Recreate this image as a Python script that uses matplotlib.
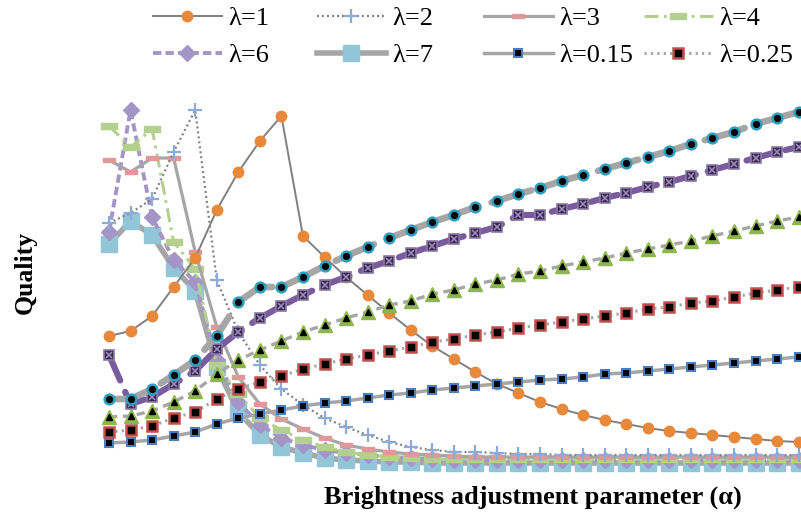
import matplotlib
matplotlib.use("Agg")
import matplotlib.pyplot as plt
from matplotlib.path import Path
import numpy as np

plt.rcParams['lines.scale_dashes'] = False
plt.rcParams['font.family'] = ['Liberation Serif', 'DejaVu Serif']

# brightness adjustment parameter index (33 sampled alpha values)
alpha = list(range(33))

lam1 = [134,139,154,183,212,260,298,329,354,234,213,193,175,157,140,124,111,98,86,77,68,61,55,50,46,42,39,37,35,33,31,29,28]
lam2 = [247,257,271,318,360,190,138,105,81,65,52,43,35,28,23,20,18,18,17,16,16,15,15,15,15,15,15,15,15,15,15,15,15]
lam3 = [310,298,312,312,218,143,93,66,51,41,32,25,21,18,16,15,14,13,13,13,13,13,13,13,13,13,13,13,13,13,13,13,13]
lam4 = [344,323,341,228,201,105,76,52,40,30,23,18,15,13,12,11,11,11,11,11,11,11,11,11,11,11,11,11,11,11,11,11,11]
lam6 = [238,360,253,210,188,110,68,45,32,25,20,17,15,13,12,11,10,10,10,10,10,10,10,10,10,10,10,10,10,10,10,10,10]
lam7 = [226,249,235,202,179,103,58,35,23,17,12,10,9,8,8,7,7,7,7,7,7,7,7,7,7,7,7,7,7,7,7,7,7]
lam015 = [27,28,30,34,38,46,52,56,60,64,67,69,72,75,77,80,82,84,86,88,90,91,93,96,97,99,101,103,105,107,109,111,113]
lam025 = [38,40,44,52,58,71,81,88,94,101,106,111,115,119,123,128,131,135,138,142,145,148,151,154,157,161,163,167,169,173,177,180,183]
# three further series drawn without legend entries
ser_tri = [53,54,59,68,79,96,110,120,129,138,145,152,158,165,169,176,180,186,190,196,199,204,208,212,217,221,225,229,234,239,244,249,253]
ser_teal = [71,71,81,95,110,134,168,183,183,193,204,214,223,232,240,248,255,263,269,276,282,289,295,301,307,313,319,326,332,338,346,352,358]
ser_purp = [115,66,73,86,99,121,138,152,164,175,185,193,202,209,217,224,231,237,243,255,255,261,266,272,277,283,288,294,300,306,312,318,323]

W, H = 801, 522
fig = plt.figure(figsize=(W/100, H/100), dpi=100)
ax = fig.add_axes([109/W, (H-470)/H, 689.6/W, 370/H])
ax.set_xlim(0, 32)
ax.set_ylim(0, 370)
ax.axis('off')

rect = Path([(-1, -0.38), (1, -0.38), (1, 0.38), (-1, 0.38), (-1, -0.38)],
            [Path.MOVETO, Path.LINETO, Path.LINETO, Path.LINETO, Path.CLOSEPOLY])

GRAY = '#a6a6a6'
DGRAY = '#808080'

h7, = ax.plot(alpha, lam7, color=GRAY, lw=4, marker='s', ms=11, mfc='#92c5d8', mec='#92c5d8',
              clip_on=False, label='λ=7', zorder=2)
h6, = ax.plot(alpha, lam6, color='#a595c6', lw=2.8, dashes=(6, 3), marker='D', ms=8.5,
              mfc='#a595c6', mec='#a595c6', clip_on=False, label='λ=6', zorder=2.1)
h4, = ax.plot(alpha, lam4, color='#b4d08e', lw=2.2, dashes=(10, 4, 2, 4), marker=rect, ms=11,
              mfc='#b4d08e', mec='#b4d08e', clip_on=False, label='λ=4', zorder=2.2)
h3, = ax.plot(alpha, lam3, color=GRAY, lw=2.3, marker=rect, ms=9, mfc='#e0999a', mec='#e0999a',
              clip_on=False, label='λ=3', zorder=2.3)
h2, = ax.plot(alpha, lam2, color=DGRAY, lw=1.6, dashes=(1.4, 2.2), marker='+', ms=10, mew=1.6,
              mec='#8eaad8', clip_on=False, label='λ=2', zorder=2.4)
h1, = ax.plot(alpha, lam1, color=DGRAY, lw=1.4, marker='o', ms=7.5, mfc='#e8883a', mec='#e8883a',
              clip_on=False, label='λ=1', zorder=2.5)
h015, = ax.plot(alpha, lam015, color=GRAY, lw=2.5, marker='s', ms=5.5, mfc='black', mec='#4a7ebf',
                mew=1.5, clip_on=False, label='λ=0.15', zorder=2.6)
h025, = ax.plot(alpha, lam025, color=GRAY, lw=2.2, dashes=(1.6, 3), marker='s', ms=7, mfc='black',
                mec='#c0504d', mew=1.8, clip_on=False, label='λ=0.25', zorder=2.7)

ax.plot(alpha, ser_tri, color=GRAY, lw=2.4, dashes=(6, 4), marker='^', ms=9.5, mfc='#8db54e',
        mec='#8db54e', clip_on=False, zorder=2.8)
ax.plot(alpha, ser_tri, ls='none', marker='^', ms=4, mfc='black', mec='black', clip_on=False, zorder=2.81)

ax.plot(alpha, ser_purp, color='#7a5c9e', lw=4.5, dashes=(20, 9), solid_capstyle='round',
        dash_capstyle='round', marker='s', ms=6.5, mfc='#3a2b4c', mec='#8a79a6', mew=1.2,
        clip_on=False, zorder=2.9)
ax.plot(alpha, ser_purp, ls='none', marker='x', ms=4, mec='#a08cc4', mew=1.1, clip_on=False, zorder=2.91)

ax.plot(alpha, ser_teal, color=GRAY, lw=4.8, dashes=(30, 10), dash_capstyle='round',
        marker='o', ms=7, mfc='black', mec='#2f9fbd', mew=1.8, clip_on=False, zorder=3)

# legend: four columns with equal spacing
cols = [([h1, h6], 153), ([h2, h7], 317), ([h3, h015], 484), ([h4, h025], 644)]
for hs, xpx in cols:
    fig.legend(hs, [h.get_label() for h in hs], loc='upper left',
               bbox_to_anchor=(xpx/W, 1 - 7/H), frameon=False, borderpad=0, borderaxespad=0,
               handlelength=2.6, handletextpad=0.25, labelspacing=0.5,
               prop={'family': 'Liberation Serif', 'size': 19})

fig.text(25/W, 1 - 272/H, 'Quality', rotation=90, ha='center', va='center',
         fontsize=18.5, fontweight='bold', family='Liberation Serif')
fig.text(533/W, 1 - 497/H, 'Brightness adjustment parameter (α)', ha='center', va='center',
         fontsize=19, fontweight='bold', family='Liberation Serif')

fig.savefig('out.png', dpi=100)
